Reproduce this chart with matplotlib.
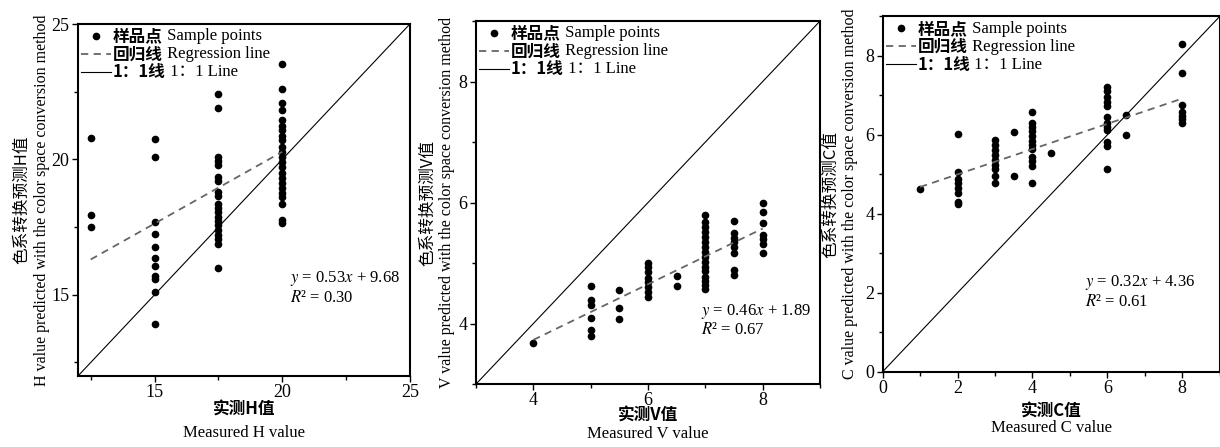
import matplotlib
matplotlib.use("Agg")
import matplotlib.pyplot as plt
from matplotlib.ticker import MultipleLocator
import numpy as np

plt.rcParams['font.family'] = ['Liberation Serif', 'Noto Sans CJK SC']
plt.rcParams['mathtext.fontset'] = 'stix'

# ---------------- data ----------------
# Panel H
h_x = [12.5]*3 + [15]*11 + [17.5]*20 + [20]*23
h_y = [20.78, 17.94, 17.50,
       20.74, 20.10, 17.70, 17.23, 16.78, 16.35, 16.07, 15.70, 15.60, 15.11, 13.93,
       22.41, 21.89, 20.09, 19.94, 19.78, 19.35, 19.19, 18.80, 18.65, 18.37, 18.21,
       18.04, 17.88, 17.73, 17.57, 17.39, 17.21, 17.05, 16.88, 16.00,
       23.54, 22.60, 22.07, 21.83, 21.46, 21.25, 21.07, 20.88, 20.72, 20.45, 20.27,
       20.09, 19.90, 19.72, 19.51, 19.33, 19.13, 18.96, 18.76, 18.61, 18.37, 17.76, 17.64]
h_slope, h_intercept, h_r2 = 0.53, 9.68, 0.30
h_lim = [12, 25]

# Panel V
v_x = [4] + [5]*6 + [5.5]*3 + [6]*8 + [6.5]*2 + [7]*16 + [7.5]*8 + [8]*7
v_y = [3.68,
       4.62, 4.39, 4.30, 4.09, 3.89, 3.80,
       4.55, 4.26, 4.08,
       5.00, 4.93, 4.85, 4.76, 4.69, 4.61, 4.52, 4.44,
       4.78, 4.62,
       5.80, 5.68, 5.60, 5.52, 5.43, 5.35, 5.27, 5.19, 5.10, 5.02, 4.94, 4.86, 4.77, 4.71, 4.64, 4.57,
       5.69, 5.50, 5.42, 5.34, 5.26, 5.17, 4.88, 4.81,
       6.00, 5.84, 5.66, 5.46, 5.40, 5.31, 5.16]
v_slope, v_intercept, v_r2 = 0.46, 1.89, 0.67
v_lim = [3, 9]

# Panel C
c_x = [1] + [2]*8 + [3]*9 + [3.5]*2 + [4]*12 + [4.5] + [6]*12 + [6.5]*2 + [8]*7
c_y = [4.62,
       6.02, 5.07, 4.88, 4.77, 4.65, 4.52, 4.31, 4.25,
       5.87, 5.75, 5.62, 5.49, 5.37, 5.24, 5.13, 4.96, 4.79,
       6.07, 4.96,
       6.59, 6.31, 6.21, 6.10, 5.97, 5.85, 5.75, 5.64, 5.45, 5.34, 5.22, 4.77,
       5.55,
       7.21, 7.10, 6.97, 6.84, 6.72, 6.45, 6.31, 6.21, 6.12, 5.83, 5.72, 5.13,
       6.51, 5.99,
       8.30, 7.56, 6.76, 6.59, 6.48, 6.40, 6.29]
c_slope, c_intercept, c_r2 = 0.32, 4.36, 0.61
c_lim = [0, 9]

panels = [
    dict(x=h_x, y=h_y, slope=h_slope, icpt=h_intercept, r2=h_r2, lim=h_lim,
         major=5, minor=2.5, letter='H',
         rect=[0.0639, 0.1588, 0.2721, 0.7875],
         eq=(0.640, 0.277), r2pos=(0.640, 0.222),
         ylab_cn=-0.168, ylab_en=-0.108, xlab_cn=-0.096, xlab_en=-0.163),
    dict(x=v_x, y=v_y, slope=v_slope, icpt=v_intercept, r2=v_r2, lim=v_lim,
         major=2, minor=1, letter='V',
         rect=[0.3902, 0.1409, 0.2820, 0.8121],
         eq=(0.655, 0.200), r2pos=(0.655, 0.148),
         ylab_cn=-0.140, ylab_en=-0.083, xlab_cn=-0.088, xlab_en=-0.137),
    dict(x=c_x, y=c_y, slope=c_slope, icpt=c_intercept, r2=c_r2, lim=c_lim,
         major=2, minor=1, letter='C',
         rect=[0.7235, 0.1685, 0.2762, 0.7946],
         eq=(0.60, 0.250), r2pos=(0.60, 0.195),
         ylab_cn=-0.155, ylab_en=-0.097, xlab_cn=-0.113, xlab_en=-0.158),
]

fig = plt.figure(figsize=(12.2, 4.47), dpi=100)
FS = 12
cn_bold = dict(family=['Noto Sans CJK SC'], weight='bold')

for p in panels:
    ax = fig.add_axes(p['rect'])
    lim = p['lim']
    sc, = ax.plot(p['x'], p['y'], 'o', color='black', markersize=4.5, linestyle='none')
    xr = np.array([min(p['x']), max(p['x'])])
    reg, = ax.plot(xr, p['slope']*xr + p['icpt'], color='#666666', lw=1.3,
                   dashes=(4, 3))
    one, = ax.plot(lim, lim, color='black', lw=0.8)
    ax.set_xlim(lim)
    ax.set_ylim(lim)

    ax.xaxis.set_major_locator(MultipleLocator(p['major']))
    ax.yaxis.set_major_locator(MultipleLocator(p['major']))
    ax.xaxis.set_minor_locator(MultipleLocator(p['minor']))
    ax.yaxis.set_minor_locator(MultipleLocator(p['minor']))
    ax.tick_params(which='major', direction='out', length=4, width=1.0,
                   labelsize=13, pad=2)
    ax.tick_params(which='minor', direction='out', length=3, width=1.0)
    for s in ax.spines.values():
        s.set_linewidth(1.5)

    leg = ax.legend([sc, reg, one], ['样品点', '回归线', '1：1线'],
                    loc='upper left', frameon=False, handlelength=1.8,
                    handletextpad=0.1, labelspacing=0.0, borderaxespad=0.1,
                    borderpad=0.1, numpoints=1,
                    prop=dict(family=['Noto Sans CJK SC'], weight='bold', size=FS))
    eng = [' Sample points', ' Regression line', ' 1：1 Line']
    for t, e in zip(leg.get_texts(), eng):
        ax.annotate(e, xy=(1, 0.5), xycoords=t, va='center', ha='left',
                    fontsize=FS, zorder=6,
                    family=['Liberation Serif', 'Noto Sans CJK SC'])

    ax.text(p['eq'][0], p['eq'][1],
            r'$y$ = %.2f$x$ + %.2f' % (p['slope'], p['icpt']),
            transform=ax.transAxes, fontsize=FS, va='center', ha='left')
    ax.text(p['r2pos'][0], p['r2pos'][1], r'$R$² = %.2f' % p['r2'],
            transform=ax.transAxes, fontsize=FS, va='center', ha='left')

    L = p['letter']
    ax.text(p['ylab_cn'], 0.5, '色系转换预测%s值' % L, rotation=90,
            transform=ax.transAxes, va='center', ha='center', fontsize=FS,
            family=['Noto Sans CJK SC'])
    ax.text(p['ylab_en'], 0.5,
            '%s value predicted with the color space conversion method' % L,
            rotation=90, transform=ax.transAxes, va='center', ha='center',
            fontsize=FS - 0.5)
    ax.text(0.5, p['xlab_cn'], '实测%s值' % L, transform=ax.transAxes,
            va='center', ha='center', fontsize=FS, **cn_bold)
    ax.text(0.5, p['xlab_en'], 'Measured %s value' % L, transform=ax.transAxes,
            va='center', ha='center', fontsize=FS)

fig.savefig('out.png', dpi=100)
